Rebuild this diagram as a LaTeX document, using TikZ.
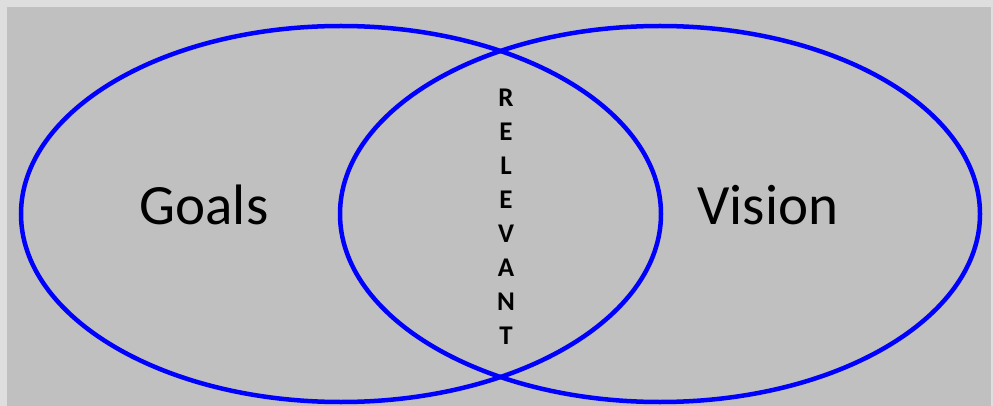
\documentclass[tikz,border=0pt]{standalone}
\usepackage{fontspec}
\setmainfont{Carlito}
\usepackage{xcolor}
\definecolor{vnblue}{RGB}{0,0,255}
\definecolor{vngray}{RGB}{192,192,192}
\definecolor{vnedge}{RGB}{222,222,222}
\usetikzlibrary{positioning}

\begin{document}
\begin{tikzpicture}[x=1pt,y=-1pt,
  setline/.style={draw=vnblue,line width=4.5pt},
  setlabel/.style={font=\fontsize{57}{60}\selectfont,text=black},
  letter/.style={font=\fontsize{27}{29}\selectfont\bfseries,text=black,inner sep=0pt}]
  % Canvas
  \fill[vnedge] (0,0) rectangle (993,406);
  \fill[vngray] (7,7) rectangle (991,406);
  \useasboundingbox (0,0) rectangle (993,406);
  % Sets
  \draw[setline] (341,214) ellipse [x radius=320,y radius=188];
  \draw[setline] (660,214) ellipse [x radius=320,y radius=188];
  % Labels
  \node[setlabel] (goals) at (204,205) {Goals};
  \node[setlabel] (vision) at (768,205) {Vision};
  % Overlap word
  \foreach \ch [count=\i] in {R,E,L,E,V,A,N,T}{
    \node[letter] (l\i) at (506,{98+34*(\i-1)}) {\ch};
  }
\end{tikzpicture}
\end{document}
